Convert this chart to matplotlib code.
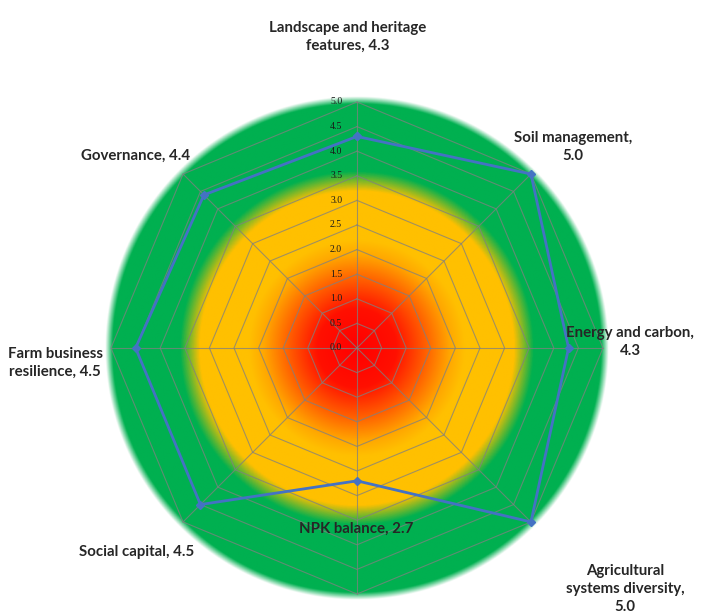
import numpy as np
import matplotlib
matplotlib.use("Agg")
import matplotlib.pyplot as plt
from matplotlib.colors import LinearSegmentedColormap

# ---- data ----
categories = ["Landscape and heritage\nfeatures, ", "Soil management,\n", "Energy and carbon,\n",
              "Agricultural\nsystems diversity,\n", "NPK balance, ", "Social capital, ",
              "Farm business\nresilience, ", "Governance, "]
scores = [4.3, 5.0, 4.3, 5.0, 2.7, 4.5, 4.5, 4.4]
rings = [0.0, 0.5, 1.0, 1.5, 2.0, 2.5, 3.0, 3.5, 4.0, 4.5, 5.0]
ring_labels = ["0.0", "0.5", "1.0", "1.5", "2.0", "2.5", "3.0", "3.5", "4.0", "4.5", "5.0"]

# pixel geometry of the reference
W, H = 703, 614
CX, CY = 357, 348      # centre in pixels
PPU = 49.2             # pixels per score unit

n = len(categories)
theta = np.arange(n) * 2 * np.pi / n   # clockwise from the top


def to_xy(r, t):
    return r * np.sin(t), r * np.cos(t)


def px(x, y):
    # pixel position -> data position
    return (x - CX) / PPU, (CY - y) / PPU


fig = plt.figure(figsize=(W / 100, H / 100), dpi=100)
ax = fig.add_axes([0, 0, 1, 1])
ax.set_xlim(-CX / PPU, (W - CX) / PPU)
ax.set_ylim(-(H - CY) / PPU, CY / PPU)
ax.axis("off")

# ---- radial colour background ----
cmap = LinearSegmentedColormap.from_list("rag", [
    (0.00, "#ff0000"), (0.16, "#ff1000"), (0.28, "#ff6000"), (0.38, "#ffa800"),
    (0.44, "#ffc000"), (0.64, "#ffc000"), (0.72, "#00b050"), (1.00, "#00b050")])
R_MAX = 5.12
g = np.linspace(-R_MAX, R_MAX, 800)
gx, gy = np.meshgrid(g, g)
rr = np.hypot(gx, gy)
rgba = cmap(np.clip(rr / 5.0, 0, 1))
rgba[..., 3] = np.clip((R_MAX - rr) / 0.15, 0, 1)
ax.imshow(rgba, extent=[-R_MAX, R_MAX, -R_MAX, R_MAX], origin="lower",
          interpolation="bilinear", zorder=1)

# ---- octagon grid and spokes ----
closed = np.append(theta, theta[0])
for r in rings[1:]:
    xs, ys = to_xy(r, closed)
    ax.plot(xs, ys, color="#808080", lw=0.8, alpha=0.75, zorder=2)
for t in theta:
    xs, ys = to_xy(np.array([0, 5.0]), t)
    ax.plot(xs, ys, color="#808080", lw=0.8, alpha=0.75, zorder=2)

for r, lab in zip(rings, ring_labels):
    ax.text(-0.3, r, lab, ha="right", va="center", fontsize=7,
            color="#1a1a1a", family="Liberation Serif", zorder=3)

# ---- series ----
vals = np.append(scores, scores[0])
xs, ys = to_xy(vals, closed)
ax.plot(xs, ys, color="#4472c4", lw=2.0, marker="D", ms=4.5, zorder=4)

# ---- category labels (positions, in pixels) ----
label_px = [(348, 37), (573, 147), (630, 342), (625, 589),
            (356, 529), (137, 552), (55, 363), (136, 156)]
for name, s, (lx, ly) in zip(categories, scores, label_px):
    x, y = px(lx, ly)
    ax.text(x, y, f"{name}{s:.1f}", ha="center", va="center",
            fontsize=10.8, fontweight="bold", family="Lato",
            color="#262626", linespacing=1.35, zorder=5)

fig.savefig("out.png", dpi=100)
